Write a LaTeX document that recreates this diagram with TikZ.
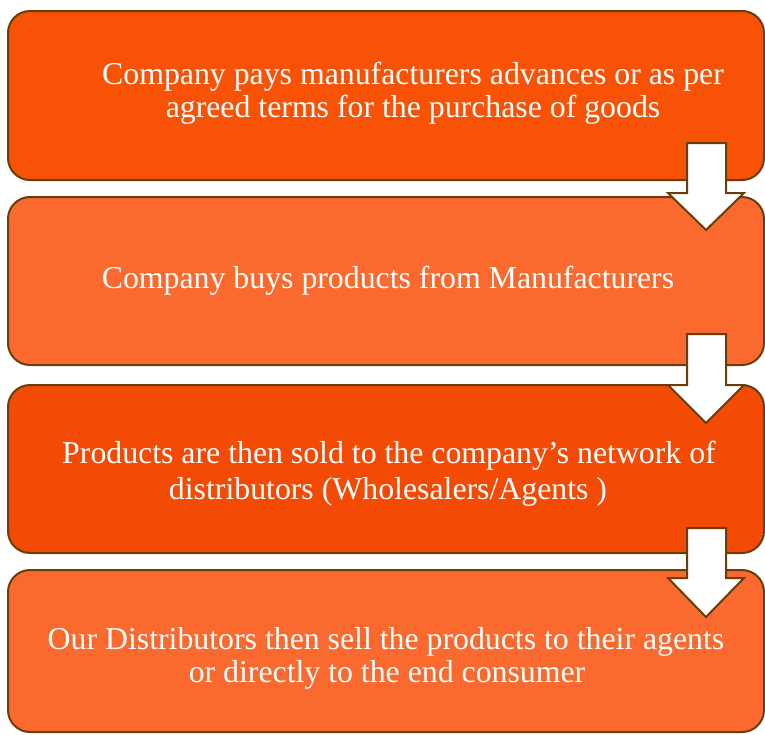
\documentclass[tikz,border=0pt]{standalone}
\usepackage{fontspec}
\setmainfont{Liberation Serif}
\definecolor{cA}{RGB}{248,82,7}
\definecolor{cB}{RGB}{250,106,47}
\definecolor{cC}{RGB}{243,74,5}
\definecolor{edge}{RGB}{107,61,11}
\begin{document}
\begin{tikzpicture}[x=1pt,y=-1pt,
  stepbox/.style={draw=edge,line width=2pt,rounded corners=22pt,minimum width=756pt,inner sep=0pt,outer sep=0pt,rectangle},
  txt/.style={text=white,anchor=base,inner sep=0pt,font=\fontsize{31.8}{33}\selectfont},
  downarrow/.style={draw=edge,fill=white,line width=2pt,line join=miter}]
\useasboundingbox (0,0) rectangle (765,734);
\node[stepbox,fill=cA,minimum height=169pt] (b1) at (386,95.5) {};
\node[stepbox,fill=cB,minimum height=168pt] (b2) at (386,281) {};
\node[stepbox,fill=cC,minimum height=168pt] (b3) at (386,469) {};
\node[stepbox,fill=cB,minimum height=162pt] (b4) at (386,651) {};
\node[txt] (t1a) at (413,84) {Company pays manufacturers advances or as per};
\node[txt] (t1b) at (413,117) {agreed terms for the purchase of goods};
\node[txt] (t2a) at (388,288) {Company buys products from Manufacturers};
\node[txt] (t3a) at (389,463) {Products are then sold to the company’s network of};
\node[txt] (t3b) at (388,499) {distributors (Wholesalers/Agents )};
\node[txt] (t4a) at (386,649) {Our Distributors then sell the products to their agents};
\node[txt] (t4b) at (387,682) {or directly to the end consumer};
\draw[downarrow] (687,143) -- (726,143) -- (726,193) -- (744,193) -- (706,230) -- (668,193) -- (687,193) -- cycle;
\draw[downarrow] (687,334) -- (726,334) -- (726,385) -- (744,385) -- (706,423) -- (668,385) -- (687,385) -- cycle;
\draw[downarrow] (687,528) -- (726,528) -- (726,578) -- (744,578) -- (706,617) -- (668,578) -- (687,578) -- cycle;
\end{tikzpicture}
\end{document}
